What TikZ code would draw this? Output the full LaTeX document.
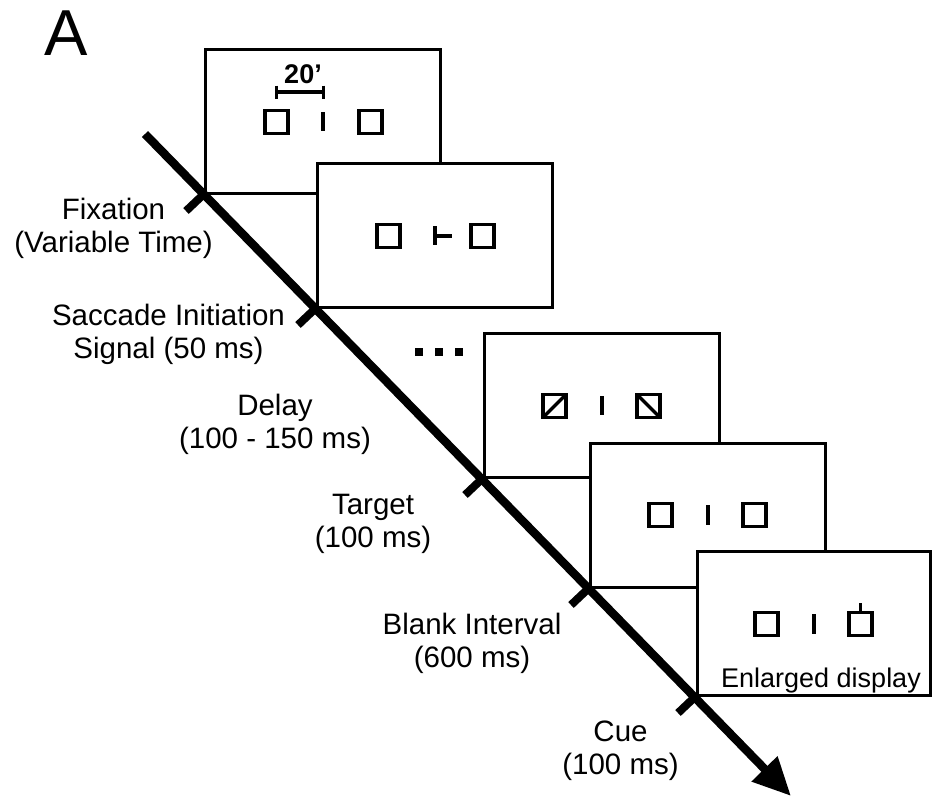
\documentclass[tikz,border=0pt]{standalone}
\usepackage{fontspec}
\setmainfont{Liberation Sans}
\usetikzlibrary{calc,arrows.meta}
\begin{document}
\begin{tikzpicture}[x=1pt,y=-1pt,
  frame/.style={draw, line width=3pt, fill=white, minimum width=235pt, minimum height=144pt, inner sep=0pt, outer sep=0pt, anchor=south west},
  sq/.style={draw, line width=3.3pt, minimum size=23pt, inner sep=0pt, outer sep=0pt},
  bar/.style={line width=4pt},
  thin/.style={line width=3.3pt},
  axisline/.style={line width=8.5pt, -{Triangle[length=38pt,width=34pt]}},
  tickmark/.style={line width=8pt},
  lbl/.style={align=center, font=\fontsize{29.5}{33}\selectfont, anchor=base, inner sep=0pt},
  dotsq/.style={fill=black, minimum size=8pt, inner sep=0pt}
]
\useasboundingbox (0,0) rectangle (933,798);

% panel letter
\node[font=\fontsize{65}{65}\selectfont, anchor=base, inner sep=0pt] (A) at (66,55) {A};

% frames
\node[frame] (f1) at (205,193) {};
\node[frame] (f2) at (317,307) {};
\node[frame] (f3) at (484,477) {};
\node[frame] (f4) at (590,587) {};
\node[frame, minimum width=233pt] (f5) at (697,695) {};

% frame 1: fixation
\node[sq] (f1l) at ($(f1.center)+(-46,1)$) {};
\node[sq] (f1r) at ($(f1.center)+(48,1)$) {};
\draw[bar] ($(f1.center)+(0,-9)$) -- ++(0,19);
\coordinate (sbl) at ($(f1.center)+(-46,-29)$);
\coordinate (sbr) at ($(f1.center)+(1,-29)$);
\draw[bar] (sbl) -- (sbr);
\draw[thin] ($(sbl)+(0,-6.5)$) -- ++(0,13);
\draw[thin] ($(sbr)+(0,-6.5)$) -- ++(0,13);
\node[font=\fontsize{27}{27}\selectfont\bfseries, anchor=base, inner sep=0pt] (lab20) at (303,83) {20’};

% frame 2: saccade initiation signal
\node[sq] (f2l) at ($(f2.center)+(-46,1)$) {};
\node[sq] (f2r) at ($(f2.center)+(48,1)$) {};
\draw[bar] ($(f2.center)+(0,-9)$) -- ++(0,19);
\draw[bar] ($(f2.center)+(0,0.5)$) -- ++(17,0);

% dots
\node[dotsq] (d1) at (419,352) {};
\node[dotsq] (d2) at (439,352) {};
\node[dotsq] (d3) at (459,352) {};

% frame 3: target
\node[sq] (f3l) at ($(f3.center)+(-47,1)$) {};
\node[sq] (f3r) at ($(f3.center)+(47,1)$) {};
\draw[thin] (f3l.south west) -- (f3l.north east);
\draw[thin] (f3r.north west) -- (f3r.south east);
\draw[bar] ($(f3.center)+(0,-9)$) -- ++(0,19);

% frame 4: blank
\node[sq] (f4l) at ($(f4.center)+(-47,0)$) {};
\node[sq] (f4r) at ($(f4.center)+(47,0)$) {};
\draw[bar] ($(f4.center)+(0,-10)$) -- ++(0,20);

% frame 5: cue
\node[sq] (f5l) at ($(f5.center)+(-47,1)$) {};
\node[sq] (f5r) at ($(f5.center)+(47,1)$) {};
\draw[thin] (f5r.north) -- ++(0,-10);
\draw[bar] ($(f5.center)+(0,-9)$) -- ++(0,20);
\node[font=\fontsize{27}{27}\selectfont, anchor=base, inner sep=0pt] (enl) at (821,687) {Enlarged display};

% time axis
\coordinate (astart) at (145,134);
\coordinate (aend) at (791,796);
\draw[axisline] (astart) -- (aend);

% ticks
\foreach \f in {f1,f2,f3,f4,f5}{
  \draw[tickmark] (\f.south west) -- ++(-19,18);
}

% labels (anchor base = baseline of the last line)
\node[lbl] (l1) at (113.5,252) {Fixation\\(Variable Time)};
\node[lbl] (l2) at (168.5,358) {Saccade Initiation\\Signal (50 ms)};
\node[lbl] (l3) at (275,448) {Delay\\(100 - 150 ms)};
\node[lbl] (l4) at (373,547) {Target\\(100 ms)};
\node[lbl] (l5) at (472,667) {Blank Interval\\(600 ms)};
\node[lbl] (l6) at (620.5,774) {Cue\\(100 ms)};
\end{tikzpicture}
\end{document}
